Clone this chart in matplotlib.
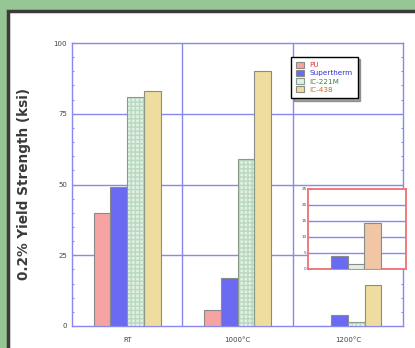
import matplotlib

matplotlib.use("Agg")
import matplotlib.pyplot as plt
import numpy as np
from matplotlib.patches import Rectangle
from matplotlib.ticker import MultipleLocator

plt.rcParams["font.family"] = ["DejaVu Sans"]

# data
temps = ["RT", "1000°C", "1200°C"]
alloys = ["PU", "Supertherm", "IC-221M", "IC-438"]
pu = [40, 5.5, 0]
supertherm = [49, 17, 4]
ic221m = [81, 59, 1.5]
ic438 = [83, 90, 14.5]
inset_ticks = [0, 5, 10, 15, 20, 25]

series = [pu, supertherm, ic221m, ic438]
face = ["#f5a3a3", "#6a6af2", "#e0f0e2", "#eedd9e"]
inset_face = ["#f5a3a3", "#6a6af2", "#e0f0e2", "#f0c6a4"]
text_col = ["#e03030", "#3030d0", "#408040", "#c07020"]
blue = "#8888f0"

fig = plt.figure(figsize=(4.15, 3.48), dpi=100)
fig.patch.set_facecolor("#96c594")
panel = Rectangle((8 / 415, -0.05), 1.2, 1 - 11 / 348 + 0.05,
                  transform=fig.transFigure, facecolor="white",
                  edgecolor="#3a3a3a", lw=2.5, zorder=-10)
fig.add_artist(panel)

ax = fig.add_axes([72 / 415, 22 / 348, 331 / 415, 283 / 348])
ax.patch.set_alpha(0)
x = np.arange(len(temps))
w = 0.152
for i, (vals, fc) in enumerate(zip(series, face)):
    xs = x + (i - 1.5) * w
    if alloys[i] == "IC-221M":
        ax.bar(xs, vals, w, color=fc, edgecolor="#b8d8c0", hatch="++++", lw=0, zorder=3)
        ax.bar(xs, vals, w, color="none", edgecolor="#8a9a8a", lw=0.8, zorder=4)
        ax.bar([-5], [1], w, color=fc, edgecolor="#8a9a8a", lw=0.8, label=alloys[i])
    else:
        ax.bar(xs, vals, w, color=fc, edgecolor="#8a8a8a", lw=0.8, zorder=3, label=alloys[i])

ax.set_xlim(-0.5, 2.5)
ax.set_ylim(0, 100)
ax.set_xticks(x)
ax.set_xticklabels(temps, fontsize=5, color="#444444")
ax.set_yticks([0, 25, 50, 75, 100])
ax.set_yticklabels(["0", "25", "50", "75", "100"], fontsize=5, color="#444444")
ax.yaxis.set_minor_locator(MultipleLocator(5))
ax.tick_params(axis="both", which="both", direction="in", colors=blue, labelcolor="#444444",
               right=True, top=False, length=3, width=0.8)
ax.tick_params(axis="x", length=0, pad=8)
ax.tick_params(which="minor", length=1.5)
for s in ax.spines.values():
    s.set_color(blue)
    s.set_linewidth(1.0)
for yy in [25, 50, 75]:
    ax.axhline(yy, color=blue, lw=1.0, zorder=1)
for xx in [0.5, 1.5]:
    ax.axvline(xx, color=blue, lw=1.0, zorder=1)
ax.set_ylabel("0.2% Yield Strength (ksi)", fontsize=9.8, fontweight="bold", color="#3a3a3a", labelpad=16)

leg = ax.legend(loc="upper left", bbox_to_anchor=(0.652, 0.965), fontsize=5.2, frameon=True,
                fancybox=False, shadow=True, handlelength=1.0, handleheight=0.9,
                labelspacing=0.25, borderpad=0.7)
leg.get_frame().set_edgecolor("black")
leg.get_frame().set_linewidth(1.0)
for t, c in zip(leg.get_texts(), text_col):
    t.set_color(c)

# inset zoom on 1200C
ins = fig.add_axes([308 / 415, 79 / 348, 98 / 415, 80 / 348])
for i, (vals, fc) in enumerate(zip(series, inset_face)):
    ins.bar(x[2] + (i - 1.5) * w, vals[2], w, color=fc, edgecolor="#8a8a8a", lw=0.8, zorder=3)
ins.set_xlim(1.64, 2.53)
ins.set_ylim(0, 25)
ins.set_xticks([])
ins.set_yticks(inset_ticks)
ins.set_yticklabels([str(v) for v in inset_ticks], fontsize=3, color="#444444")
ins.tick_params(axis="y", direction="in", length=2, colors=blue, labelcolor="#444444", pad=1)
for yy in inset_ticks[1:-1]:
    ins.axhline(yy, color=blue, lw=1.0, zorder=1)
for s in ins.spines.values():
    s.set_color("#f07070")
    s.set_linewidth(1.3)

fig.savefig("out.png", dpi=100, facecolor=fig.get_facecolor())
